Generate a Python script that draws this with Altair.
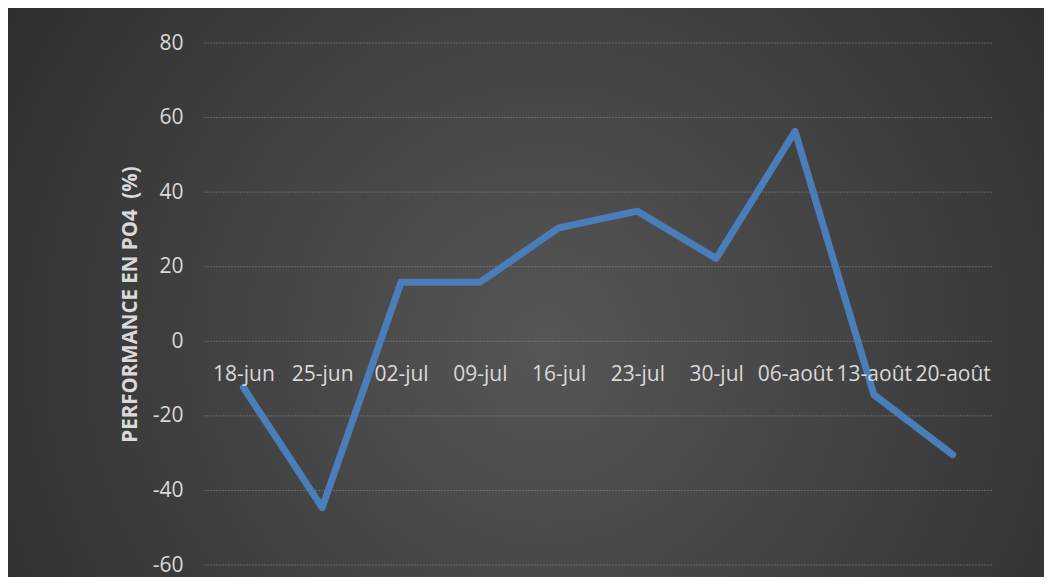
import altair as alt
import pandas as pd

dates = ["18-jun", "25-jun", "02-jul", "09-jul", "16-jul", "23-jul", "30-jul", "06-août", "13-août", "20-août"]
perf = [-12.4, -44.6, 15.8, 15.8, 30.4, 34.9, 22.2, 56.3, -14.3, -30.4]
y_ticks = [-60, -40, -20, 0, 20, 40, 60, 80]

df = pd.DataFrame({"date": dates, "perf": perf})
grid_df = pd.DataFrame({"v": y_ticks})

W, H = 788, 522
PAD_L, PAD_T, PAD_R, PAD_B = 196, 35, 52, 12

bg_grad = alt.RadialGradient(
    gradient="radial",
    x1=0.52, y1=0.55, r1=0,
    x2=0.52, y2=0.55, r2=0.75,
    stops=[
        alt.GradientStop(offset=0, color="#565656"),
        alt.GradientStop(offset=1, color="#262626"),
    ],
)

yscale = alt.Scale(domain=[-60, 80], nice=False, zero=False)

bg = alt.Chart(df).mark_rect(color=bg_grad, clip=False).encode(
    x=alt.value(-PAD_L), x2=alt.value(W + PAD_R),
    y=alt.value(-PAD_T), y2=alt.value(H + PAD_B),
)

grid = alt.Chart(grid_df).mark_rule(
    color="#8a8a8a", strokeDash=[2, 1], opacity=0.55, strokeWidth=1
).encode(
    y=alt.Y("v:Q", scale=yscale),
    x=alt.value(0), x2=alt.value(W),
)

zero_px = H * 80 / 140

x_enc = alt.X(
    "date:N", sort=dates, title=None,
    scale=alt.Scale(paddingInner=0, paddingOuter=0),
    axis=alt.Axis(
        labelAngle=0, domain=False, ticks=False, grid=False, zindex=1,
        labelColor="#d9d9d9", labelFont="Open Sans", labelFontSize=21,
        labelPadding=33, offset=-(H - zero_px), labelOverlap=False,
        labelBaseline="middle",
    ),
)
y_enc = alt.Y(
    "perf:Q", title="PERFORMANCE EN PO4\u00a0 (%)",
    scale=yscale,
    axis=alt.Axis(
        values=y_ticks, domain=False, ticks=False, grid=False, zindex=1,
        labelExpr="'' + datum.value",
        labelColor="#d9d9d9", labelFont="Open Sans", labelFontSize=21,
        labelPadding=21,
        titleColor="#d9d9d9", titleFont="Open Sans", titleFontSize=20.5,
        titleFontWeight="bold", titlePadding=12,
    ),
)

line = alt.Chart(df).mark_line(
    color="#4a7ebb", strokeWidth=7, strokeCap="round", strokeJoin="round"
).encode(x=x_enc, y=y_enc)

chart = alt.layer(bg, grid, line).properties(
    width=W, height=H,
    autosize=alt.AutoSizeParams(type="none"),
    padding={"left": PAD_L, "top": PAD_T, "right": PAD_R, "bottom": PAD_B},
).configure(background="#2b2b2b").configure_view(stroke=None)

chart.save("out.html", embed_options={"renderer": "svg", "actions": False})
